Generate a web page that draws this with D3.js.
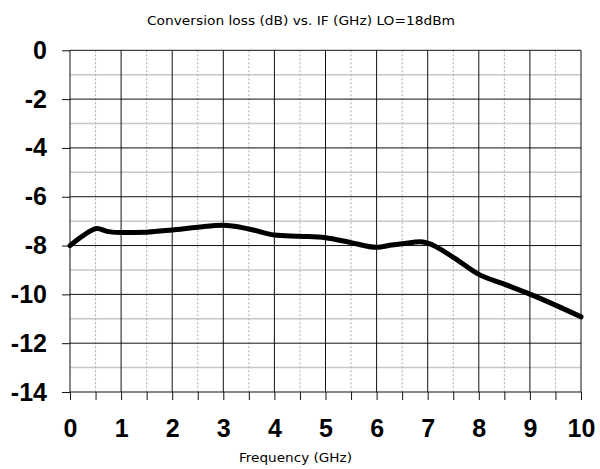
<!DOCTYPE html>
<html>
<head>
<meta charset="utf-8">
<script src="https://cdn.jsdelivr.net/npm/d3@7"></script>
<style>
  body { margin: 0; background: #fff; }
  svg { display: block; }
</style>
</head>
<body>
<svg id="chart"></svg>
<script>
var width = 600
var height = 469
var margin = {top: 50.3, right: 19, bottom: 77, left: 70}

// conversion loss
var freq = [0, 0.25, 0.53, 0.75, 1, 1.5, 2, 2.5, 3, 3.5, 4, 4.5, 5, 5.5, 6, 6.3, 6.5, 6.85, 7, 7.5, 8, 8.5, 9, 9.5, 10]
var loss = [-8.0, -7.6, -7.3, -7.43, -7.47, -7.45, -7.36, -7.25, -7.17, -7.32, -7.57, -7.62, -7.68, -7.88, -8.07, -7.98, -7.93, -7.84, -7.9, -8.48, -9.18, -9.58, -9.99, -10.44, -10.92]

var xMajor = d3.range(0, 11, 1)
var xMinor = d3.range(0.5, 10, 1)
var yMajor = d3.range(0, -15, -2)
var yMinor = d3.range(-1, -14, -2)

var title = "Conversion loss (dB) vs. IF (GHz) LO=18dBm"
var xTitle = "Frequency (GHz)"

let svg = d3.select("#chart")
  .attr("width", width)
  .attr("height", height)

let x = d3.scaleLinear()
  .domain([0, 10])
  .range([margin.left, width - margin.right])

let y = d3.scaleLinear()
  .domain([0, -14])
  .range([margin.top, height - margin.bottom])

let grid = svg.append("g").attr("class", "grid")

// minor horizontal lines (odd dB)
grid.selectAll(".hminor")
  .data(yMinor)
  .join("line")
  .attr("x1", x(0)).attr("x2", x(10))
  .attr("y1", d => y(d)).attr("y2", d => y(d))
  .attr("stroke", "#c8c8c8")
  .attr("stroke-width", 1.5)

// minor vertical lines, dotted
grid.selectAll(".vminor")
  .data(xMinor)
  .join("line")
  .attr("x1", d => x(d)).attr("x2", d => x(d))
  .attr("y1", y(0)).attr("y2", y(-14))
  .attr("stroke", "#aaa")
  .attr("stroke-width", 1)
  .attr("stroke-dasharray", "2,2")

// major lines
grid.selectAll(".hmajor")
  .data(yMajor)
  .join("line")
  .attr("x1", x(0)).attr("x2", x(10))
  .attr("y1", d => y(d)).attr("y2", d => y(d))
  .attr("stroke", "#111")
  .attr("stroke-width", 1)

grid.selectAll(".vmajor")
  .data(xMajor)
  .join("line")
  .attr("x1", d => x(d)).attr("x2", d => x(d))
  .attr("y1", y(0)).attr("y2", y(-14))
  .attr("stroke", "#111")
  .attr("stroke-width", 1)

// axes
let xAxis = d3.axisBottom(x)
  .tickValues(d3.range(0, 10.01, 0.5))
  .tickSize(8)
  .tickPadding(19)
  .tickFormat(d => Number.isInteger(d) ? String(d) : "")

svg.append("g")
  .attr("transform", "translate(0," + y(-14) + ")")
  .call(xAxis)
  .call(g => g.select(".domain").remove())

// plain hyphen for negatives, like the reference
let yAxis = d3.axisLeft(y)
  .tickValues(yMajor)
  .tickSize(8)
  .tickPadding(15)
  .tickFormat(d => String(d))

svg.append("g")
  .attr("transform", "translate(" + x(0) + ",0)")
  .call(yAxis)
  .call(g => g.select(".domain").remove())

svg.selectAll(".tick line").attr("stroke", "#111")
svg.selectAll(".tick text")
  .attr("fill", "#000")
  .style("font-family", "'Liberation Sans', Arial, sans-serif")
  .style("font-weight", "bold")
  .style("font-size", "25px")

// curve
let line = d3.line()
  .x((d, i) => x(freq[i]))
  .y(d => y(d))
  .curve(d3.curveMonotoneX)

svg.append("path")
  .datum(loss)
  .attr("d", line)
  .attr("fill", "none")
  .attr("stroke", "#000")
  .attr("stroke-width", 5)
  .attr("stroke-linejoin", "round")
  .attr("stroke-linecap", "round")

// titles
svg.append("text")
  .attr("x", 301)
  .attr("y", 25)
  .attr("text-anchor", "middle")
  .attr("textLength", 308)
  .attr("lengthAdjust", "spacingAndGlyphs")
  .style("font-family", "'DejaVu Sans', sans-serif")
  .style("font-size", "13px")
  .text(title)

svg.append("text")
  .attr("x", 295.5)
  .attr("y", 462)
  .attr("text-anchor", "middle")
  .attr("textLength", 113)
  .attr("lengthAdjust", "spacingAndGlyphs")
  .style("font-family", "'DejaVu Sans', sans-serif")
  .style("font-size", "13px")
  .text(xTitle)
</script>
</body>
</html>
